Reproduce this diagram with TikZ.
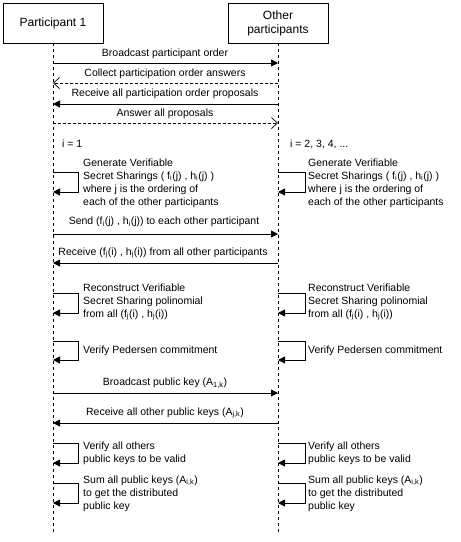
\documentclass[tikz,border=0pt]{standalone}
\usepackage{fontspec}
\setmainfont{Liberation Sans}
\usetikzlibrary{arrows.meta}
\begin{document}
\begin{tikzpicture}[x=1pt,y=-1pt, font=\fontsize{10.5}{13}\selectfont,
 actor/.style={draw, line width=0.9pt, minimum width=100pt, minimum height=40pt, align=center, inner sep=0pt, font=\fontsize{12}{14}\selectfont},
 life/.style={line width=0.7pt, dash pattern=on 3pt off 3pt},
 msg/.style={line width=0.9pt, -{Triangle[length=7pt,width=7pt]}},
 reply/.style={line width=0.7pt, dash pattern=on 3pt off 2pt, -{Straight Barb[length=6pt,width=11pt,line width=0.7pt]}},
 lbl/.style={inner sep=0pt, anchor=center},
 note/.style={inner sep=0pt, align=left, anchor=west}]
\useasboundingbox (0,0) rectangle (461,542);
\node[actor] (p1) at (53,23) {Participant 1};
\node[actor] (po) at (278,23) {Other\\participants};
\coordinate (p1end) at (53,532);
\coordinate (poend) at (278,532);
\draw[life] (p1.south) -- (p1end);
\draw[life] (po.south) -- (poend);

% messages
\coordinate (a1) at (53,63);  \coordinate (b1) at (278,63);
\coordinate (a2) at (53,83);  \coordinate (b2) at (278,83);
\coordinate (a3) at (53,104); \coordinate (b3) at (278,104);
\coordinate (a4) at (53,123); \coordinate (b4) at (278,123);
\coordinate (a5) at (53,234); \coordinate (b5) at (278,234);
\coordinate (a6) at (53,263); \coordinate (b6) at (278,263);
\coordinate (a7) at (53,393); \coordinate (b7) at (278,393);
\coordinate (a8) at (53,423); \coordinate (b8) at (278,423);

\draw[msg] (a1) -- (b1);
\node[lbl] (t1) at (165,54) {Broadcast participant order};
\draw[reply] (b2) -- (a2);
\node[lbl] (t2) at (165,74) {Collect participation order answers};
\draw[msg] (b3) -- (a3);
\node[lbl] (t3) at (165,94) {Receive all participation order proposals};
\draw[reply] (a4) -- (b4);
\node[lbl] (t4) at (165,114) {Answer all proposals};

\node[note] (i1) at (62,144) {i = 1};
\node[note] (i2) at (290,144) {i = 2, 3, 4, ...};

% self loops: generate
\coordinate (g1a) at (53,172); \coordinate (g1b) at (53,192);
\coordinate (g2a) at (278,172); \coordinate (g2b) at (278,192);
\draw[msg] (g1a) -- ++(25,0) |- (g1b);
\draw[msg] (g2a) -- ++(27,0) |- (g2b);
\node[note] (n1) at (83,183) {Generate Verifiable\\Secret Sharings ( f\textsubscript{i}(j) , h\textsubscript{i}(j) )\\where j is the ordering of\\each of the other participants};
\node[note] (n2) at (308,183) {Generate Verifiable\\Secret Sharings ( f\textsubscript{i}(j) , h\textsubscript{i}(j) )\\where j is the ordering of\\each of the other participants};

\draw[msg] (a5) -- (b5);
\node[lbl] (t5) at (164,222) {Send (f\textsubscript{i}(j) , h\textsubscript{i}(j)) to each other participant};
\draw[msg] (b6) -- (a6);
\node[lbl] (t6) at (163,253) {Receive (f\textsubscript{j}(i) , h\textsubscript{j}(i)) from all other participants};

% reconstruct
\coordinate (r1a) at (53,293); \coordinate (r1b) at (53,313);
\coordinate (r2a) at (278,293); \coordinate (r2b) at (278,313);
\draw[msg] (r1a) -- ++(25,0) |- (r1b);
\draw[msg] (r2a) -- ++(27,0) |- (r2b);
\node[note] (n3) at (83,302) {Reconstruct Verifiable\\Secret Sharing polinomial\\from all (f\textsubscript{j}(i) , h\textsubscript{j}(i))};
\node[note] (n4) at (308,302) {Reconstruct Verifiable\\Secret Sharing polinomial\\from all (f\textsubscript{j}(i) , h\textsubscript{j}(i))};

% pedersen
\coordinate (v1a) at (53,341); \coordinate (v1b) at (53,360);
\coordinate (v2a) at (278,341); \coordinate (v2b) at (278,360);
\draw[msg] (v1a) -- ++(25,0) |- (v1b);
\draw[msg] (v2a) -- ++(27,0) |- (v2b);
\node[note] (n5) at (83,351) {Verify Pedersen commitment};
\node[note] (n6) at (308,351) {Verify Pedersen commitment};

\draw[msg] (a7) -- (b7);
\node[lbl] (t7) at (165,383) {Broadcast public key (A\textsubscript{1,k})};
\draw[msg] (b8) -- (a8);
\node[lbl] (t8) at (165,413) {Receive all other public keys (A\textsubscript{j,k})};

% verify all others
\coordinate (w1a) at (53,443); \coordinate (w1b) at (53,463);
\coordinate (w2a) at (278,443); \coordinate (w2b) at (278,463);
\draw[msg] (w1a) -- ++(25,0) |- (w1b);
\draw[msg] (w2a) -- ++(27,0) |- (w2b);
\node[note] (n7) at (83,453.5) {Verify all others\\public keys to be valid};
\node[note] (n8) at (308,453.5) {Verify all others\\public keys to be valid};

% sum
\coordinate (s1a) at (53,483); \coordinate (s1b) at (53,503);
\coordinate (s2a) at (278,483); \coordinate (s2b) at (278,503);
\draw[msg] (s1a) -- ++(25,0) |- (s1b);
\draw[msg] (s2a) -- ++(27,0) |- (s2b);
\node[note] (n9) at (83,493.5) {Sum all public keys (A\textsubscript{i,k})\\to get the distributed\\public key};
\node[note] (n10) at (308,493.5) {Sum all public keys (A\textsubscript{i,k})\\to get the distributed\\public key};
\end{tikzpicture}
\end{document}
